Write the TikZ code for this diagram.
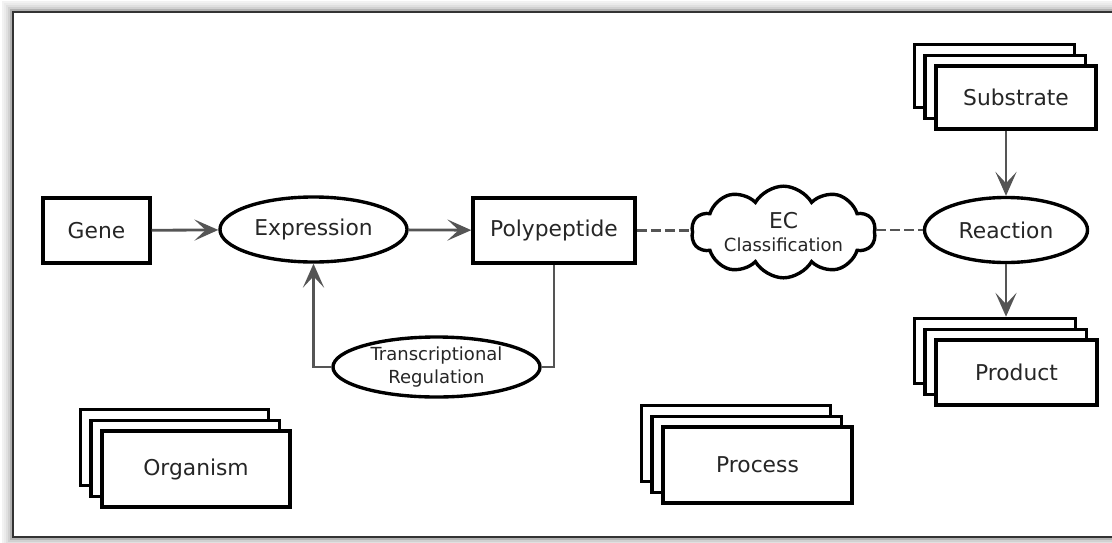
\documentclass[tikz,border=0pt]{standalone}
\usepackage{fontspec}
\setmainfont{DejaVu Sans}
\usetikzlibrary{shapes.geometric,shapes.symbols,shadows,arrows.meta}
\definecolor{wiregray}{HTML}{555555}
\definecolor{inkgray}{HTML}{262626}
\tikzset{
  box/.style={shape=rectangle, draw, line width=2.4pt, fill=white, inner sep=0, text=inkgray, font=\fontsize{15.5}{18}\selectfont},
  oval/.style={shape=ellipse, draw, line width=2.4pt, fill=white, inner sep=0, text=inkgray, font=\fontsize{15.5}{18}\selectfont},
  stack/.style={box, double copy shadow={shadow xshift=-0.27cm, shadow yshift=0.27cm}},
  flow/.style={draw=wiregray, line width=2pt, -{Stealth[length=17pt, width=15pt, inset=8pt]}},
  wire/.style={draw=wiregray, line width=2pt},
  dashwire/.style={draw=wiregray, line width=2pt, dash pattern={on 7pt off 3pt}}
}
\begin{document}
\begin{tikzpicture}[x=0.025cm, y=-0.025cm]
          \useasboundingbox (0,0) rectangle (1112,542);
          % Frame with soft shadow:
          \begin{scope}
            \clip (0,0) rectangle (1112,542);
            \foreach \d/\o in {10/0.05, 8/0.08, 6/0.12, 4/0.18, 2/0.3}
              \draw[line width=2pt, black, opacity=\o] (13-\d,12-\d) rectangle (1130,537+\d);
            \draw[line width=1.6pt, black!80] (13,12) rectangle (1130,537);
          \end{scope}
          % Paths, nodes and wires:
          \node[box, minimum width=2.675cm, minimum height=1.625cm] (gene) at (96.5, 230.5) {Gene};
          \node[oval, minimum width=4.675cm, minimum height=1.625cm] (expression) at (313.5, 229.5) {Expression};
          \node[box, minimum width=4.05cm, minimum height=1.625cm] (polypeptide) at (554, 230.5) {Polypeptide};
          \node[shape=cloud, draw, line width=2.4pt, fill=white, cloud puffs=10, cloud puff arc=120, aspect=2.6, inner sep=0, minimum width=4.6cm, minimum height=1.95cm, align=center, text=inkgray, font=\fontsize{12.8}{16}\selectfont] (ec) at (783.5, 232) {{\fontsize{15.5}{18}\selectfont EC}\\Classification};
          \node[oval, minimum width=4.075cm, minimum height=1.625cm] (reaction) at (1006, 230) {Reaction};
          \node[stack, minimum width=4cm, minimum height=1.575cm] (substrate) at (1016, 97.5) {Substrate};
          \node[stack, minimum width=4.025cm, minimum height=1.625cm] (product) at (1016.5, 372.5) {Product};
          \node[oval, minimum width=5.175cm, minimum height=1.5cm, align=center, font=\fontsize{12.8}{16}\selectfont] (regulation) at (436.5, 367) {Transcriptional\\Regulation};
          \node[stack, minimum width=4.7cm, minimum height=1.9cm] (organism) at (196, 469) {Organism};
          \node[stack, minimum width=4.725cm, minimum height=1.9cm] (process) at (757.5, 465) {Process};
          \draw[flow] (gene) -- (expression);
          \draw[flow] (expression) -- (polypeptide);
          \draw[wire] (polypeptide.south) |- (regulation.east);
          \draw[flow] (regulation.west) -| (expression.south);
          \draw[dashwire] (polypeptide.east) -- (ec.west |- polypeptide.east);
          \draw[dashwire] (ec.east |- reaction.west) -- (reaction.west);
          \draw[flow] (substrate.south -| reaction.north) -- (reaction.north);
          \draw[flow] (reaction.south) -- ([yshift=0.54cm]product.north -| reaction.south);
        \end{tikzpicture}
\end{document}
